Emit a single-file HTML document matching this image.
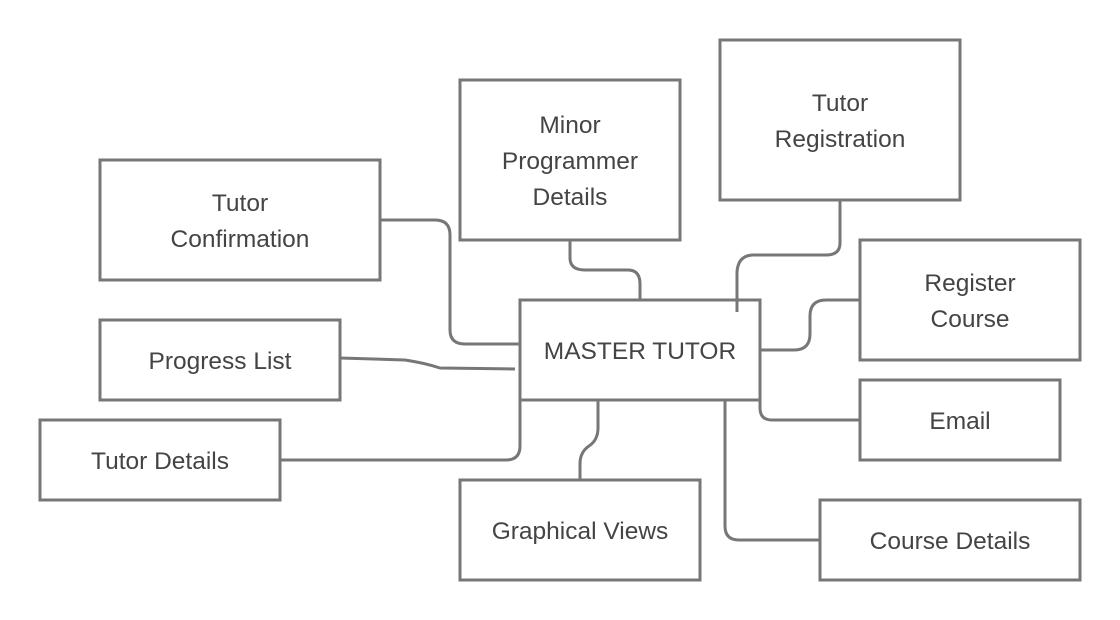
<!DOCTYPE html>
<html><head><meta charset="utf-8"><style>
html,body{margin:0;padding:0;background:#fff;width:1120px;height:620px;overflow:hidden}
text{font-family:"Liberation Sans",sans-serif;font-size:24.5px;fill:#444;text-anchor:middle}
</style></head><body>
<svg width="1120" height="620" viewBox="0 0 1120 620" xmlns="http://www.w3.org/2000/svg">
<g fill="none" stroke="#777" stroke-width="3">
<path d="M380 220 H435 Q450 220 450 235 V330 Q450 344 465 344 H520"/>
<path d="M570 240 V258 Q570 270 585 270 H628 Q640 270 640 284 V300"/>
<path d="M840 200 V243 Q840 255 826 255 H752 Q738 256 737 272 V312"/>
<path d="M860 300 H826 Q810 300 810 316 V334 Q810 350 794 350 H760"/>
<path d="M340 358 L405 360 Q425 363 440 368 L515 369"/>
<path d="M760 400 V408 Q760 420 772 420 H860"/>
<path d="M280 460 H506 Q520 460 520 446 V400"/>
<path d="M598 400 V428 Q598 440 589 446 Q580 452 580 464 V480"/>
<path d="M725 400 V526 Q725 540 739 540 H820"/>
<rect x="100" y="160" width="280" height="120"/>
<rect x="460" y="80" width="220" height="160"/>
<rect x="720" y="40" width="240" height="160"/>
<rect x="860" y="240" width="220" height="120"/>
<rect x="100" y="320" width="240" height="80"/>
<rect x="520" y="300" width="240" height="100"/>
<rect x="860" y="380" width="200" height="80"/>
<rect x="40" y="420" width="240" height="80"/>
<rect x="460" y="480" width="240" height="100"/>
<rect x="820" y="500" width="260" height="80"/>
</g>
<text x="240" y="211">Tutor</text>
<text x="240" y="247">Confirmation</text>
<text x="570" y="133">Minor</text>
<text x="570" y="169">Programmer</text>
<text x="570" y="205">Details</text>
<text x="840" y="111">Tutor</text>
<text x="840" y="147">Registration</text>
<text x="970" y="291">Register</text>
<text x="970" y="327">Course</text>
<text x="220" y="369">Progress List</text>
<text x="640" y="359">MASTER TUTOR</text>
<text x="960" y="429">Email</text>
<text x="160" y="469">Tutor Details</text>
<text x="580" y="539">Graphical Views</text>
<text x="950" y="549">Course Details</text>
</svg>
</body></html>
